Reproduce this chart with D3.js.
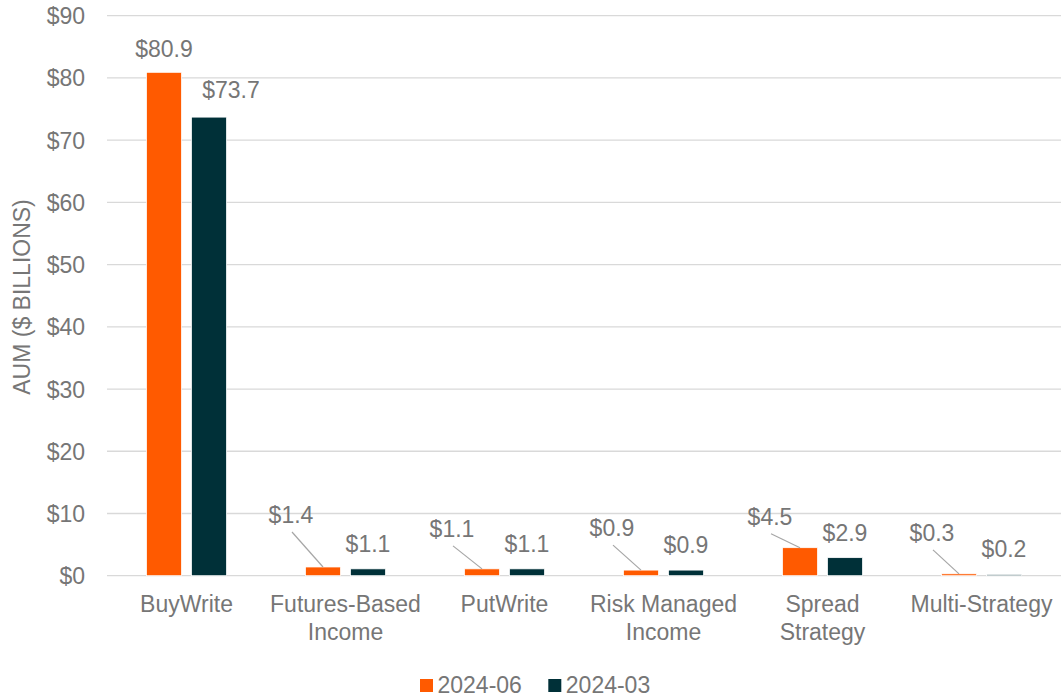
<!DOCTYPE html>
<html>
<head>
<meta charset="utf-8">
<script src="https://cdn.jsdelivr.net/npm/d3@7"></script>
<style>
  html, body { margin: 0; padding: 0; background: #fff; }
  svg { display: block; font-family: "Liberation Sans", Arial, sans-serif; }
</style>
</head>
<body>
<svg id="chart" width="1061" height="698"></svg>
<script>
// ---- data ----
const categories = ["BuyWrite", "Futures-Based Income", "PutWrite", "Risk Managed Income", "Spread Strategy", "Multi-Strategy"];
const categoryLines = [["BuyWrite"], ["Futures-Based", "Income"], ["PutWrite"], ["Risk Managed", "Income"], ["Spread", "Strategy"], ["Multi-Strategy"]];
const seriesNames = ["2024-06", "2024-03"];
const values2024_06 = [80.9, 1.4, 1.1, 0.9, 4.5, 0.3];
const values2024_03 = [73.7, 1.1, 1.1, 0.9, 2.9, 0.2];
const yTicks = [0, 10, 20, 30, 40, 50, 60, 70, 80, 90];

// label placement (offsets in px from bar top centre), style only
const labelOffsets06 = [[0, -15, false], [-32, -44, true], [-30, -32, true], [-29, -34, true], [-30, -23, true], [-27, -33, true]];
const labelOffsets03 = [[22, -19, false], [0, -17, false], [0, -17, false], [0, -17, false], [0, -17, false], [0, -17, false]];

const colors = { "2024-06": "#FF5A00", "2024-03": "#003038" };
const textColor = "#767676";
const fontSize = 23;

const svg = d3.select("#chart");
const margin = { left: 107, right: 0, top: 16, bottom: 122 };
const W = 1061, H = 698;
const plotBottom = 575.7, plotTop = 15.7;

const x0 = d3.scaleBand().domain(categories).range([margin.left, W]).paddingInner(0).paddingOuter(0);
const x1 = d3.scaleBand().domain(seriesNames).range([0, x0.bandwidth()]).paddingInner(0.2222).paddingOuter(0.8778);
const y = d3.scaleLinear().domain([0, 90]).range([plotBottom, plotTop]);

// gridlines
svg.append("g").selectAll("line").data(yTicks).join("line")
  .attr("x1", margin.left).attr("x2", W)
  .attr("y1", d => y(d)).attr("y2", d => y(d))
  .attr("stroke", "#d9d9d9").attr("stroke-width", 1.3);

// y axis labels
const yAxis = d3.axisLeft(y).tickValues(yTicks).tickFormat(d => "$" + d).tickSize(0).tickPadding(0);
const yg = svg.append("g").attr("transform", `translate(85,0)`).call(yAxis);
yg.select(".domain").remove();
yg.selectAll("text").attr("fill", textColor).style("font-size", fontSize + "px")
  .style("font-family", '"Liberation Sans", Arial, sans-serif').attr("dy", "0.35em");

// y title
svg.append("text")
  .attr("transform", `translate(30,297) rotate(-90)`)
  .attr("text-anchor", "middle")
  .attr("fill", textColor).style("font-size", fontSize + "px")
  .text("AUM ($ BILLIONS)");

// bars
const seriesData = [
  { name: "2024-06", values: values2024_06, offsets: labelOffsets06 },
  { name: "2024-03", values: values2024_03, offsets: labelOffsets03 }
];

seriesData.forEach(s => {
  const g = svg.append("g");
  const pts = categories.map((c, i) => ({ c, i, v: s.values[i] }));
  g.selectAll("rect").data(pts).join("rect")
    .attr("x", d => x0(d.c) + x1(s.name))
    .attr("y", d => y(d.v))
    .attr("width", x1.bandwidth())
    .attr("height", d => y(0) - y(d.v))
    .attr("fill", colors[s.name])
    .attr("stroke", "#ffffff").attr("stroke-width", 0.75);

  // leader lines
  g.selectAll("line.leader").data(pts.filter(d => s.offsets[d.i][2])).join("line")
    .attr("class", "leader")
    .attr("x1", d => x0(d.c) + x1(s.name) + x1.bandwidth() / 2 + s.offsets[d.i][0] + 1)
    .attr("y1", d => y(d.v) + s.offsets[d.i][1] + 9)
    .attr("x2", d => x0(d.c) + x1(s.name) + x1.bandwidth() / 2)
    .attr("y2", d => y(d.v))
    .attr("stroke", "#a6a6a6").attr("stroke-width", 1.2);

  g.selectAll("text").data(pts).join("text")
    .attr("x", d => x0(d.c) + x1(s.name) + x1.bandwidth() / 2 + s.offsets[d.i][0])
    .attr("y", d => y(d.v) + s.offsets[d.i][1])
    .attr("text-anchor", "middle")
    .attr("fill", textColor).style("font-size", fontSize + "px")
    .text(d => "$" + d.v.toFixed(1));
});

// x labels
const xg = svg.append("g");
categories.forEach((c, i) => {
  const t = xg.append("text")
    .attr("x", x0(c) + x0.bandwidth() / 2)
    .attr("y", 612)
    .attr("text-anchor", "middle")
    .attr("fill", textColor).style("font-size", fontSize + "px");
  categoryLines[i].forEach((ln, j) => {
    t.append("tspan").attr("x", x0(c) + x0.bandwidth() / 2).attr("dy", j === 0 ? 0 : 28.3).text(ln);
  });
});

// legend
const legendX = [420, 548.3];
seriesNames.forEach((n, i) => {
  svg.append("rect").attr("x", legendX[i]).attr("y", 679).attr("width", 13).attr("height", 13)
    .attr("fill", colors[n]);
  svg.append("text").attr("x", legendX[i] + 17.5).attr("y", 692.5)
    .attr("fill", textColor).style("font-size", fontSize + "px").text(n);
});
</script>
</body>
</html>
